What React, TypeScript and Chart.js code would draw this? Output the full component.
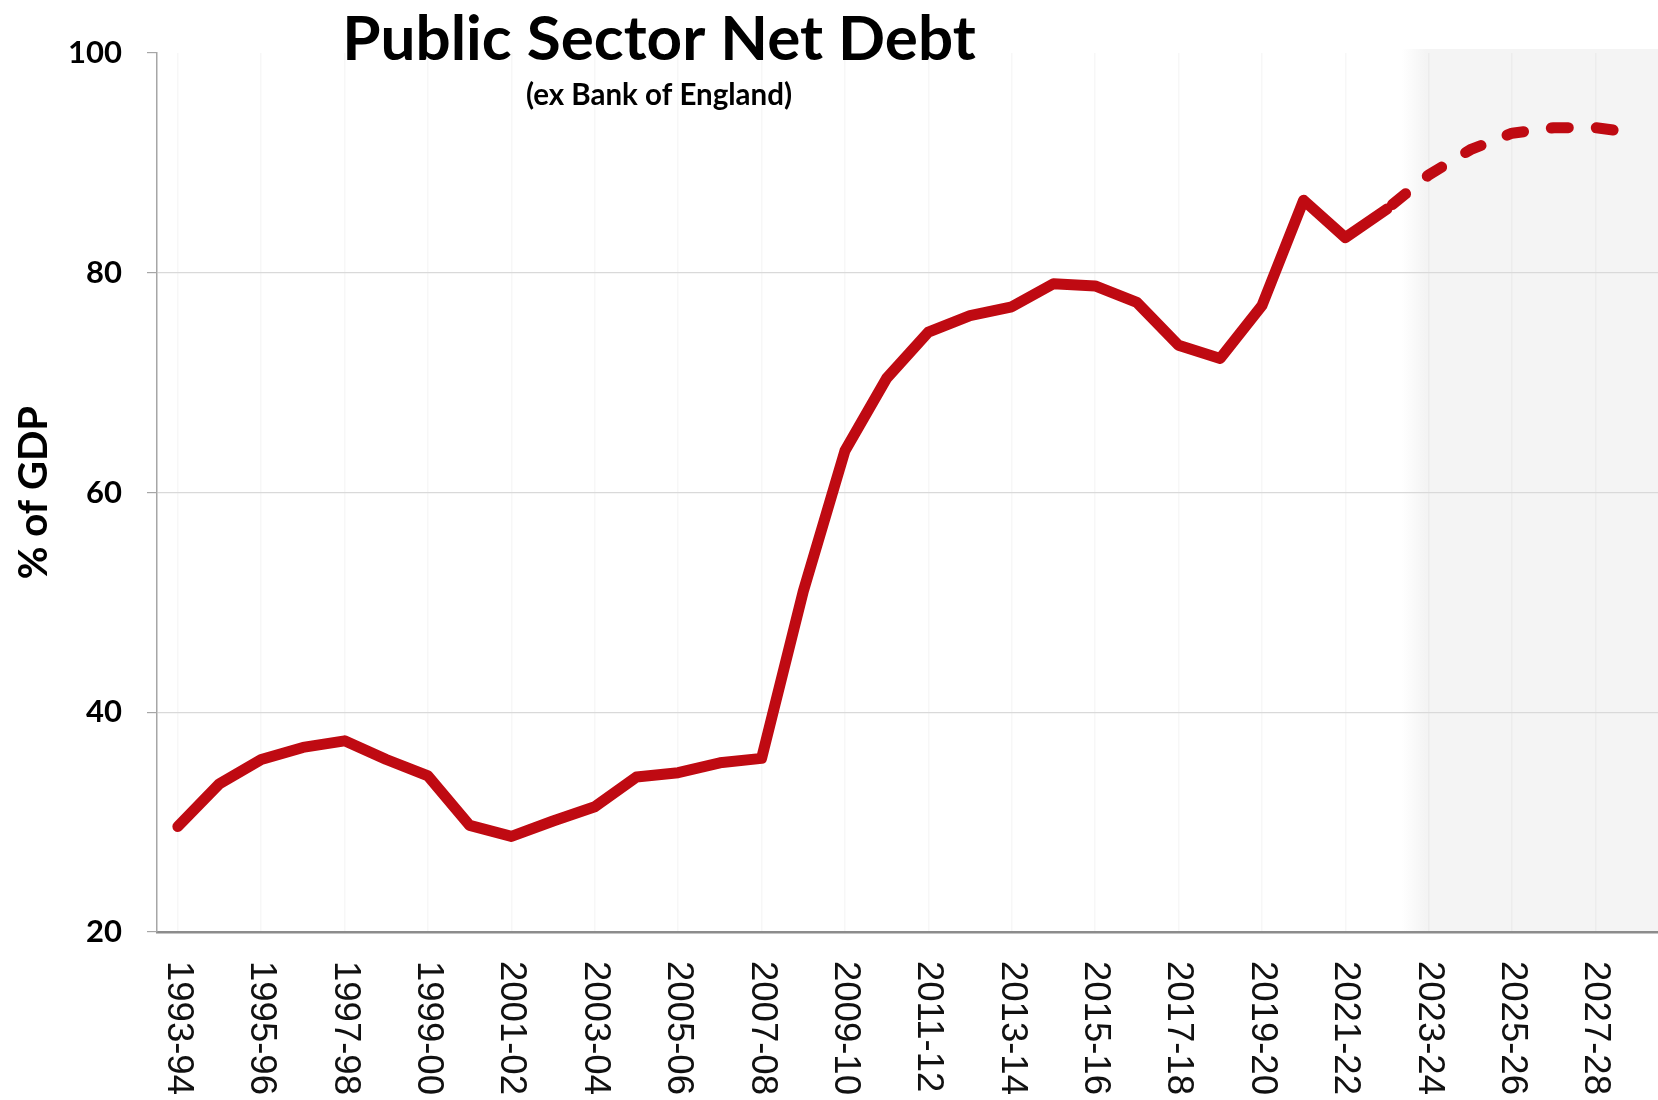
import React, { useEffect, useRef } from "react";
import { Chart, registerables } from "chart.js";

Chart.register(...registerables);

// ---------- data ----------
const categories = [
  "1993-94", "1994-95", "1995-96", "1996-97", "1997-98", "1998-99",
  "1999-00", "2000-01", "2001-02", "2002-03", "2003-04", "2004-05",
  "2005-06", "2006-07", "2007-08", "2008-09", "2009-10", "2010-11",
  "2011-12", "2012-13", "2013-14", "2014-15", "2015-16", "2016-17",
  "2017-18", "2018-19", "2019-20", "2020-21", "2021-22", "2022-23",
  "2023-24", "2024-25", "2025-26", "2026-27", "2027-28", "2028-29",
];

// outturn, 1993-94 .. 2022-23 (% of GDP)
const actualValues = [
  29.6, 33.5, 35.7, 36.8, 37.4, 35.7, 34.2, 29.7, 28.7, 30.1,
  31.4, 34.1, 34.5, 35.4, 35.8, 51.0, 63.8, 70.4, 74.6, 76.1,
  76.9, 79.0, 78.8, 77.3, 73.4, 72.2, 77.0, 86.6, 83.2, 85.8,
];

// forecast, 2022-23 .. 2028-29 (% of GDP)
const forecastStart = "2022-23";
const forecastValues = [85.8, 88.9, 91.2, 92.7, 93.2, 93.2, 92.7];

// first forecast-only year (shaded region starts here)
const shadedFrom = "2023-24";

const yTickValues = [20, 40, 60, 80, 100];
const xTickLabels = categories.filter((_, i) => i % 2 === 0);

const titleText = "Public Sector Net Debt";
const subtitleText = "(ex Bank of England)";
const yAxisTitle = "% of GDP";

// ---------- styling ----------
const RED = "#bf0a12";
const TITLE_FONT = "Lato, 'Open Sans', sans-serif";
const LABEL_FONT = "'Liberation Sans', Arial, sans-serif";

export default function App() {
  const canvasRef = useRef<HTMLCanvasElement | null>(null);

  useEffect(() => {
    const canvas = canvasRef.current;
    if (!canvas) return;

    const fIdx = categories.indexOf(forecastStart);
    const actualData = categories.map((_, i) =>
      i < actualValues.length ? actualValues[i] : null
    );
    const forecastData = categories.map((_, i) =>
      i >= fIdx && i - fIdx < forecastValues.length ? forecastValues[i - fIdx] : null
    );

    const decorPlugin = {
      id: "decor",
      beforeDraw(chart: any) {
        const { ctx, chartArea, scales } = chart;
        ctx.save();
        ctx.fillStyle = "#ffffff";
        ctx.fillRect(0, 0, chart.width, chart.height);
        // forecast shading
        const xs = scales.x;
        const ys = scales.y;
        const si = categories.indexOf(shadedFrom);
        const x0 = (xs.getPixelForValue(si - 1) + xs.getPixelForValue(si)) / 2 + 4;
        const top = ys.getPixelForValue(100) - 4;
        const bottom = chartArea.bottom;
        const grad = ctx.createLinearGradient(x0 - 10, 0, x0 + 14, 0);
        grad.addColorStop(0, "rgba(244,244,244,0)");
        grad.addColorStop(1, "rgba(244,244,244,1)");
        ctx.fillStyle = grad;
        ctx.fillRect(x0 - 10, top, chart.width - (x0 - 10), bottom - top);
        ctx.restore();
      },
      afterDraw(chart: any) {
        const { ctx, scales } = chart;
        const xs = scales.x;
        ctx.save();
        // title
        ctx.fillStyle = "#000000";
        ctx.textAlign = "center";
        ctx.textBaseline = "alphabetic";
        ctx.font = `bold 62px ${TITLE_FONT}`;
        ctx.fillText(titleText, 659, 60);
        ctx.font = `bold 29.5px ${TITLE_FONT}`;
        ctx.fillText(subtitleText, 659, 105);
        // x tick labels, rotated clockwise
        ctx.font = `36.5px ${LABEL_FONT}`;
        ctx.fillStyle = "#111111";
        ctx.textAlign = "left";
        ctx.textBaseline = "middle";
        categories.forEach((lab, i) => {
          if (!xTickLabels.includes(lab)) return;
          const x = xs.getPixelForValue(i);
          ctx.save();
          ctx.translate(x, 961);
          ctx.rotate(Math.PI / 2);
          ctx.fillText(lab, 0, 0);
          ctx.restore();
        });
        ctx.restore();
      },
    };

    const chart = new Chart(canvas, {
      type: "line",
      data: {
        labels: categories,
        datasets: [
          {
            label: "Outturn",
            data: actualData,
            borderColor: RED,
            borderWidth: 11,
            borderJoinStyle: "round",
            borderCapStyle: "round",
            pointRadius: 0,
            tension: 0,
            fill: false,
          },
          {
            label: "Forecast",
            data: forecastData,
            borderColor: RED,
            borderWidth: 11,
            borderDash: [17, 28],
            borderDashOffset: 38,
            borderJoinStyle: "round",
            borderCapStyle: "round",
            pointRadius: 0,
            tension: 0,
            fill: false,
          },
        ],
      },
      options: {
        responsive: false,
        animation: false,
        devicePixelRatio: 1,
        layout: { padding: { top: 53, left: 0, right: -5, bottom: 0 } },
        plugins: {
          legend: { display: false },
          tooltip: { enabled: false },
          title: { display: false },
        },
        scales: {
          x: {
            type: "category",
            offset: true,
            afterFit: (scale: any) => {
              scale.height = 168;
            },
            ticks: { display: false, autoSkip: false },
            grid: {
              offset: false,
              drawTicks: false,
              lineWidth: 1.5,
              color: (c: any) =>
                c.index % 2 === 0 ? "rgba(0,0,0,0.03)" : "rgba(0,0,0,0)",
            },
            border: { display: true, color: "#8c8c8c", width: 2.5 },
          },
          y: {
            min: 20,
            max: 100,
            afterFit: (scale: any) => {
              scale.width = 157;
            },
            afterBuildTicks: (scale: any) => {
              scale.ticks = yTickValues.map((v) => ({ value: v }));
            },
            ticks: {
              padding: 25,
              color: "#000000",
              font: { family: TITLE_FONT, weight: "bold", size: 31 },
            },
            grid: {
              tickLength: 10,
              tickColor: "#a6a6a6",
              lineWidth: 1.2,
              color: (c: any) =>
                c.tick && (c.tick.value === 100 || c.tick.value === 20)
                  ? "rgba(0,0,0,0)"
                  : "#d9d9d9",
            },
            border: { display: true, color: "#a6a6a6", width: 1.5 },
            title: {
              display: true,
              text: yAxisTitle,
              color: "#000000",
              font: { family: TITLE_FONT, weight: "bold", size: 40, lineHeight: 1.2 },
              padding: { top: 10, bottom: 0 },
            },
          },
        },
      },
      plugins: [decorPlugin],
    });

    return () => {
      chart.destroy();
    };
  }, []);

  return (
    <div style={{ position: "absolute", left: 0, top: 0, width: 1658, height: 1100 }}>
      <canvas
        ref={canvasRef}
        width={1658}
        height={1100}
        style={{ display: "block", width: 1658, height: 1100 }}
      />
    </div>
  );
}
